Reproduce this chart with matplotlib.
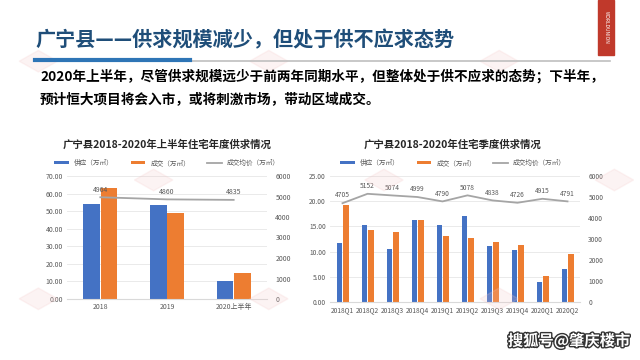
import numpy as np
import matplotlib
matplotlib.use('Agg')
import matplotlib.pyplot as plt
import matplotlib.patheffects as pe
from matplotlib.patches import Rectangle, RegularPolygon

plt.rcParams['font.family'] = ['Noto Sans CJK SC', 'DejaVu Sans']

# annual data
years = ['2018', '2019', '2020上半年']
year_supply = [53.8, 53.5, 10.5]
year_deal = [63.0, 49.0, 14.8]
year_price = [4964, 4860, 4835]

# quarterly data
quarters = ['2018Q1', '2018Q2', '2018Q3', '2018Q4', '2019Q1',
            '2019Q2', '2019Q3', '2019Q4', '2020Q1', '2020Q2']
q_supply = [11.7, 15.2, 10.5, 16.2, 15.2, 17.1, 11.1, 10.3, 3.9, 6.5]
q_deal = [19.2, 14.3, 13.8, 16.2, 13.1, 12.6, 12.0, 11.3, 5.1, 9.6]
q_price = [4705, 5152, 5074, 4999, 4790, 5078, 4838, 4726, 4915, 4791]

blue, orange, gray = '#4472C4', '#ED7D31', '#A5A5A5'
tick_c = '#595959'

fig = plt.figure(figsize=(6.4, 3.6), dpi=100)
fig.patch.set_facecolor('white')

# faint watermark logos
for (wx, wy) in [(0.06, 0.17), (0.42, 0.17), (0.78, 0.17), (0.24, 0.50), (0.60, 0.50),
                 (0.96, 0.50), (0.06, 0.83), (0.42, 0.83), (0.78, 0.83)]:
    fig.patches.append(RegularPolygon((wx, wy), 4, radius=0.03, orientation=0,
                                      transform=fig.transFigure, color='#f4c6c6',
                                      alpha=0.2, zorder=0))

# header
fig.text(35 / 640, 1 - 40 / 360, '广宁县——供求规模减少，但处于供不应求态势', fontsize=14.5,
         fontweight='bold', color='#1F4E79', va='center', ha='left')
fig.add_artist(plt.Line2D([35 / 640, 610 / 640], [1 - 61 / 360] * 2, color='#bfbfbf', lw=1.2))
fig.add_artist(plt.Line2D([35 / 640, 190 / 640], [1 - 60 / 360] * 2, color='#2E75B6', lw=3))
fig.patches.append(Rectangle((598 / 640, 1 - 55 / 360), 16 / 640, 55 / 360,
                             transform=fig.transFigure, color='#C0392B'))
fig.text(606 / 640, 1 - 27 / 360, 'WORLDUNION', rotation=-90, fontsize=3.5, color='white',
         ha='center', va='center')
fig.text(40 / 640, 1 - 76 / 360,
         '2020年上半年，尽管供求规模远少于前两年同期水平，但整体处于供不应求的态势；下半年，',
         fontsize=9.8, fontweight='bold', color='black', va='center')
fig.text(40 / 640, 1 - 100 / 360, '预计恒大项目将会入市，或将刺激市场，带动区域成交。',
         fontsize=9.8, fontweight='bold', color='black', va='center')


def draw(ax, cats, supply, deal, price, ymax, ystep, width, gap, title, tx, fs_lab):
    x = np.arange(len(cats))
    ax.bar(x - width / 2 - gap, supply, width, color=blue, label='供应（万㎡）', zorder=2)
    ax.bar(x + width / 2 + gap, deal, width, color=orange, label='成交（万㎡）', zorder=2)
    ax.set_ylim(0, ymax)
    ax.set_yticks(np.arange(0, ymax + 0.01, ystep))
    ax.set_yticklabels(['%.2f' % v for v in np.arange(0, ymax + 0.01, ystep)])
    ax.set_xticks(x)
    ax.set_xticklabels(cats)
    ax.set_xlim(-0.5, len(cats) - 0.5)
    ax.grid(axis='y', color='#e6e6e6', lw=0.6, zorder=0)
    for s in ax.spines.values():
        s.set_visible(False)
    ax.spines['bottom'].set_visible(True)
    ax.spines['bottom'].set_color('#d9d9d9')
    ax.tick_params(length=0, labelsize=fs_lab, colors=tick_c, pad=3)
    ax.patch.set_alpha(0)

    ax2 = ax.twinx()
    ax2.plot(x, price, color=gray, lw=1.3, label='成交均价（万㎡）', zorder=3)
    for xi, p in zip(x, price):
        ax2.text(xi, p + 180, str(p), ha='center', va='bottom', fontsize=fs_lab, color=tick_c)
    ax2.set_ylim(0, 6000)
    ax2.set_yticks(range(0, 6001, 1000))
    for s in ax2.spines.values():
        s.set_visible(False)
    ax2.tick_params(length=0, labelsize=fs_lab, colors=tick_c, pad=6)

    h1, l1 = ax.get_legend_handles_labels()
    h2, l2 = ax2.get_legend_handles_labels()
    fig.legend(h1 + h2, l1 + l2, loc='center', bbox_to_anchor=(tx, 1 - 163 / 360), ncol=3,
               frameon=False, fontsize=4.8, handlelength=2.2, handleheight=0.45,
               columnspacing=2.5, labelcolor=tick_c)
    fig.text(tx, 1 - 145 / 360, title, ha='center', va='center', fontsize=7.5,
             fontweight='bold', color='#262626')
    return ax2


axL = fig.add_axes([67 / 640, 1 - 299 / 360, 200 / 640, 123 / 360])
draw(axL, years, year_supply, year_deal, year_price, 70, 10, 0.25, 0.005,
     '广宁县2018-2020年上半年住宅年度供求情况', 167 / 640, 5)

axR = fig.add_axes([330 / 640, 1 - 302 / 360, 250 / 640, 126 / 360])
draw(axR, quarters, q_supply, q_deal, q_price, 25, 5, 0.22, 0.02,
     '广宁县2018-2020年住宅季度供求情况', 453 / 640, 4.8)

fig.text(630 / 640, 1 - 341 / 360, '搜狐号@肇庆楼市', ha='right', va='center', fontsize=11,
         fontweight='bold', color='white',
         path_effects=[pe.withStroke(linewidth=2, foreground='#333333')])

fig.savefig('out.png', dpi=100, facecolor='white')
